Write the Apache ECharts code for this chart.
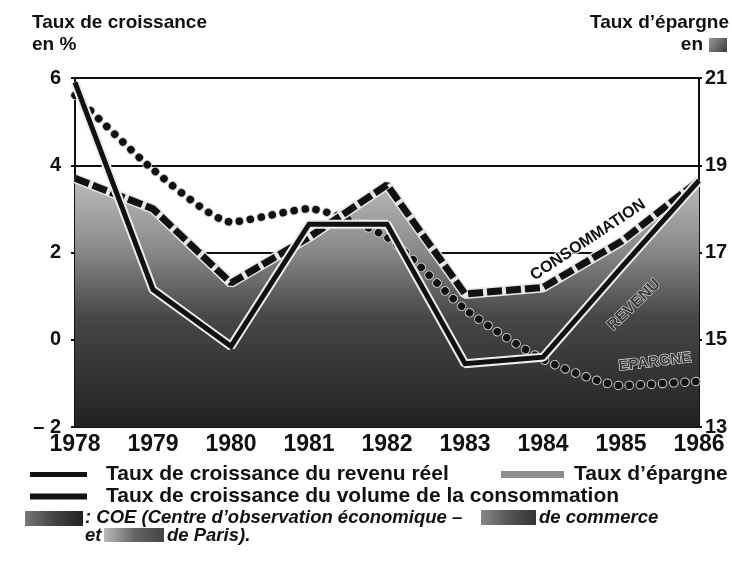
<!DOCTYPE html>
<html><head><meta charset="utf-8">
<script src="https://cdn.jsdelivr.net/npm/echarts@6/dist/echarts.min.js"></script>
<style>html,body{margin:0;padding:0;background:#fff}#c{width:732px;height:566px}</style>
</head><body><div id="c"></div>
<script>
// ---- data ----
const years = ['1978','1979','1980','1981','1982','1983','1984','1985','1986'];
const revenu = [5.9, 1.15, -0.15, 2.65, 2.65, -0.55, -0.4, 1.65, 3.65];        // left axis, %
const consommation = [3.7, 3.0, 1.3, 2.35, 3.55, 1.05, 1.2, 2.25, 3.65];       // left axis, %
const epargne = [20.6, 18.9, 17.7, 18.0, 17.35, 15.7, 14.55, 13.95, 14.05];     // right axis, %
const leftTicks = [-2, 0, 2, 4, 6];
const rightTicks = [13, 15, 17, 19, 21];
const nameRevenu = 'Taux de croissance du revenu réel';
const nameEpargne = 'Taux d’épargne';
const nameConso = 'Taux de croissance du volume de la consommation';

const FONT = "'Liberation Sans', Arial, sans-serif";
const INK = '#111';
const chart = echarts.init(document.getElementById('c'), null, {renderer: 'canvas'});

const dotDash = [0.1, 11];
const option = {
  backgroundColor: '#fff',
  animation: false,
  grid: {left: 75, right: 33, top: 78, bottom: 139, containLabel: false},
  xAxis: {
    type: 'category', data: years, boundaryGap: false,
    axisLine: {show: true, onZero: false, lineStyle: {color: INK, width: 2}},
    axisTick: {show: true, inside: true, length: 6, lineStyle: {color: INK, width: 2}},
    axisLabel: {color: INK, fontFamily: FONT, fontWeight: 'bold', fontSize: 23, margin: 6},
    splitLine: {show: false}
  },
  yAxis: [{
    type: 'value', position: 'left',
    min: leftTicks[0], max: leftTicks[leftTicks.length - 1], interval: leftTicks[1] - leftTicks[0],
    axisLine: {show: true, lineStyle: {color: INK, width: 2}},
    axisTick: {show: true, length: 4, lineStyle: {color: INK, width: 2}},
    axisLabel: {color: INK, fontFamily: FONT, fontWeight: 'bold', fontSize: 20, margin: 14,
      formatter: v => v < 0 ? '– ' + Math.abs(v) : String(v)},
    splitLine: {show: true, lineStyle: {color: INK, width: 2}}
  }, {
    type: 'value', position: 'right',
    min: rightTicks[0], max: rightTicks[rightTicks.length - 1], interval: rightTicks[1] - rightTicks[0],
    axisLine: {show: true, lineStyle: {color: INK, width: 2}},
    axisTick: {show: true, length: 3, lineStyle: {color: INK, width: 2}},
    axisLabel: {color: INK, fontFamily: FONT, fontWeight: 'bold', fontSize: 20, margin: 6},
    splitLine: {show: false}
  }],
  legend: [{
    left: 25, top: 459, selectedMode: false, icon: 'rect', itemWidth: 57, itemHeight: 5,
    data: [{name: nameRevenu}],
    textStyle: {color: INK, fontFamily: FONT, fontWeight: 'bold', fontSize: 21, padding: [0, 0, 0, 14]}
  }, {
    left: 496, top: 459, selectedMode: false, icon: 'rect', itemWidth: 63, itemHeight: 7,
    data: [{name: nameEpargne, itemStyle: {color: '#8d8d8d'}}],
    textStyle: {color: INK, fontFamily: FONT, fontWeight: 'bold', fontSize: 21, padding: [0, 0, 0, 5]}
  }, {
    left: 25, top: 481, selectedMode: false, icon: 'rect', itemWidth: 57, itemHeight: 6,
    data: [{name: nameConso}],
    textStyle: {color: INK, fontFamily: FONT, fontWeight: 'bold', fontSize: 21, padding: [0, 0, 0, 14]}
  }],
  series: [
    { // stippled shading under the consumption curve
      name: 'shade', type: 'line', data: consommation, yAxisIndex: 0, silent: true,
      showSymbol: false, lineStyle: {width: 0},
      areaStyle: {origin: 'start', opacity: 1, color: {type: 'linear', x: 0, y: 165, x2: 0, y2: 427, global: true,
        colorStops: [{offset: 0, color: '#c6c6c6'}, {offset: 0.32, color: '#8a8a8a'},
                     {offset: 0.58, color: '#474747'}, {offset: 1, color: '#222'}]}}
    },
    { // pale rings under savings dots (visible only on the dark shading)
      name: 'epHalo', type: 'line', data: epargne, yAxisIndex: 1, silent: true, smooth: 0.2,
      showSymbol: false, lineStyle: {color: '#cfcfcf', width: 9.5, type: dotDash, cap: 'round'}
    },
    {
      name: nameEpargne, type: 'line', data: epargne, yAxisIndex: 1, smooth: 0.2,
      showSymbol: false, itemStyle: {color: INK},
      lineStyle: {color: INK, width: 7.5, type: dotDash, cap: 'round'}
    },
    {
      name: 'consoHalo', type: 'line', data: consommation, yAxisIndex: 0, silent: true,
      showSymbol: false, lineStyle: {color: '#e6e6e6', width: 10}
    },
    {
      name: nameConso, type: 'line', data: consommation, yAxisIndex: 0,
      showSymbol: false, itemStyle: {color: INK},
      lineStyle: {color: INK, width: 7, type: [15, 4]}
    },
    {
      name: 'revHalo', type: 'line', data: revenu, yAxisIndex: 0, silent: true,
      showSymbol: false, lineStyle: {color: '#ececec', width: 9}
    },
    {
      name: nameRevenu, type: 'line', data: revenu, yAxisIndex: 0,
      showSymbol: false, itemStyle: {color: INK},
      lineStyle: {color: INK, width: 5, join: 'miter'}
    }
  ],
  graphic: [
    {type: 'text', left: 32, top: 13, style: {text: 'Taux de croissance', fill: INK, font: "bold 19px " + FONT}},
    {type: 'text', left: 32, top: 35, style: {text: 'en %', fill: INK, font: "bold 19px " + FONT}},
    {type: 'text', right: 3, top: 13, style: {text: 'Taux d’épargne', fill: INK, font: "bold 19px " + FONT}},
    {type: 'text', right: 29, top: 35, style: {text: 'en', fill: INK, font: "bold 19px " + FONT}},
    {type: 'rect', shape: {x: 709, y: 38, width: 18, height: 14},
      style: {fill: {type: 'linear', x: 0, y: 0, x2: 1, y2: 1, colorStops: [{offset: 0, color: '#9a9a9a'}, {offset: 1, color: '#3a3a3a'}]}}},
    // in-chart labels
    {type: 'text', x: 588, y: 240, rotation: 33.5 * Math.PI / 180, z: 50,
      style: {text: 'CONSOMMATION', align: 'center', verticalAlign: 'middle', fill: INK, font: "bold 16px " + FONT,
        stroke: '#fff', lineWidth: 2}},
    {type: 'text', x: 634, y: 305, rotation: 44 * Math.PI / 180, z: 50,
      style: {text: 'REVENU', align: 'center', verticalAlign: 'middle', fill: '#3a3a3a', font: "bold 16px " + FONT,
        stroke: '#d8d8d8', lineWidth: 1.2}},
    {type: 'text', x: 655, y: 362, rotation: 7 * Math.PI / 180, z: 50,
      style: {text: 'EPARGNE', align: 'center', verticalAlign: 'middle', fill: '#3a3a3a', font: "bold 15px " + FONT,
        stroke: '#e8e8e8', lineWidth: 1.2}},
    // source note (redacted words appear as grey smudges in the reference)
    {type: 'rect', shape: {x: 25, y: 511, width: 58, height: 15},
      style: {fill: {type: 'linear', x: 0, y: 0, x2: 1, y2: 0, colorStops: [{offset: 0, color: '#777'}, {offset: 0.5, color: '#444'}, {offset: 1, color: '#222'}]}}},
    {type: 'text', left: 85, top: 508, style: {text: ': COE (Centre d’observation économique –', fill: INK, font: "italic bold 18.5px " + FONT}},
    {type: 'rect', shape: {x: 481, y: 510, width: 55, height: 15},
      style: {fill: {type: 'linear', x: 0, y: 0, x2: 1, y2: 0, colorStops: [{offset: 0, color: '#888'}, {offset: 0.5, color: '#555'}, {offset: 1, color: '#333'}]}}},
    {type: 'text', left: 539, top: 508, style: {text: 'de commerce', fill: INK, font: "italic bold 18.5px " + FONT}},
    {type: 'text', left: 85, top: 526, style: {text: 'et', fill: INK, font: "italic bold 18.5px " + FONT}},
    {type: 'rect', shape: {x: 104, y: 528, width: 60, height: 14},
      style: {fill: {type: 'linear', x: 0, y: 0, x2: 1, y2: 0, colorStops: [{offset: 0, color: '#bbb'}, {offset: 0.5, color: '#666'}, {offset: 1, color: '#444'}]}}},
    {type: 'text', left: 167, top: 526, style: {text: 'de Paris).', fill: INK, font: "italic bold 18.5px " + FONT}}
  ]
};
chart.setOption(option);
</script>
</body></html>
